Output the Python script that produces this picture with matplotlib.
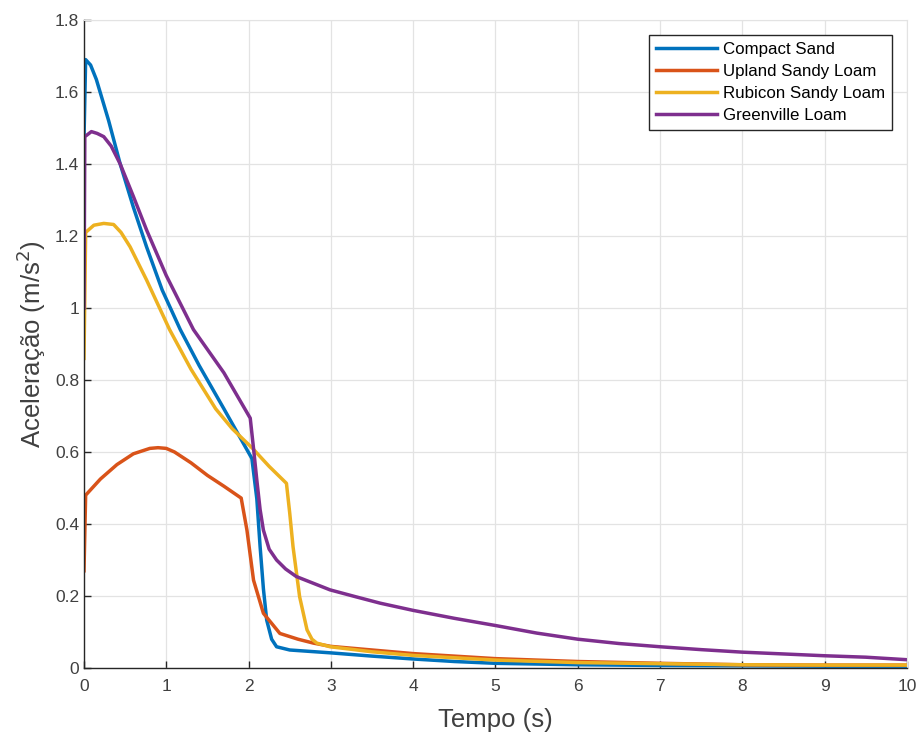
import matplotlib
matplotlib.use("Agg")
import matplotlib.pyplot as plt

plt.rcParams['font.family'] = ['Liberation Sans', 'DejaVu Sans']

# Acceleration vs. time for four soil types
t_compact = [0.0, 0.02, 0.08, 0.15, 0.3, 0.44, 0.6, 0.76, 0.95, 1.17, 1.4, 1.7, 2.04,
             2.1, 2.14, 2.18, 2.22, 2.28, 2.34, 2.5, 3.0, 3.5, 4.0, 4.5, 5.0, 6.0, 7.0, 8.0, 9.0, 10.0]
a_compact = [1.47, 1.69, 1.675, 1.635, 1.52, 1.40, 1.28, 1.17, 1.05, 0.94, 0.84, 0.72, 0.582,
             0.47, 0.337, 0.22, 0.133, 0.08, 0.059, 0.05, 0.042, 0.033, 0.025, 0.018, 0.013, 0.009, 0.007, 0.006, 0.005, 0.005]

t_upland = [0.0, 0.02, 0.2, 0.4, 0.6, 0.8, 0.9, 1.0, 1.1, 1.3, 1.5, 1.7, 1.91,
            1.98, 2.06, 2.18, 2.38, 2.6, 2.79, 3.0, 3.6, 4.0, 5.0, 6.0, 7.0, 8.0, 9.0, 10.0]
a_upland = [0.27, 0.48, 0.525, 0.565, 0.595, 0.61, 0.612, 0.61, 0.60, 0.57, 0.535, 0.505, 0.472,
            0.383, 0.244, 0.152, 0.096, 0.08, 0.069, 0.06, 0.048, 0.04, 0.026, 0.018, 0.013, 0.009, 0.008, 0.008]

t_rubicon = [0.0, 0.02, 0.12, 0.24, 0.36, 0.45, 0.56, 0.76, 1.04, 1.3, 1.6, 1.8, 2.04, 2.25, 2.46,
             2.5, 2.54, 2.62, 2.71, 2.77, 2.83, 2.99, 3.5, 4.0, 5.0, 6.0, 7.0, 8.0, 9.0, 10.0]
a_rubicon = [0.86, 1.21, 1.23, 1.235, 1.232, 1.21, 1.17, 1.078, 0.94, 0.83, 0.72, 0.665, 0.612, 0.56, 0.513,
             0.43, 0.337, 0.198, 0.106, 0.08, 0.069, 0.059, 0.045, 0.035, 0.022, 0.015, 0.012, 0.009, 0.008, 0.008]

t_green = [0.0, 0.01, 0.09, 0.16, 0.24, 0.33, 0.44, 0.6, 0.76, 1.0, 1.33, 1.7, 2.02,
           2.06, 2.10, 2.14, 2.18, 2.25, 2.34, 2.45, 2.58, 2.99, 3.3, 3.6, 4.0, 4.5, 5.0, 5.5, 6.0,
           6.5, 7.0, 7.5, 8.0, 8.5, 9.0, 9.5, 10.0]
a_green = [1.0, 1.476, 1.49, 1.485, 1.476, 1.45, 1.40, 1.31, 1.217, 1.09, 0.94, 0.82, 0.694,
           0.61, 0.522, 0.44, 0.383, 0.33, 0.30, 0.275, 0.254, 0.217, 0.198, 0.18, 0.16, 0.138, 0.118, 0.097, 0.08,
           0.068, 0.059, 0.051, 0.044, 0.039, 0.034, 0.03, 0.023]

labels = ["Compact Sand", "Upland Sandy Loam", "Rubicon Sandy Loam", "Greenville Loam"]
colors = ["#0072BD", "#D95319", "#EDB120", "#7E2F8E"]

x_ticks = list(range(0, 11))
y_ticks = [0, 0.2, 0.4, 0.6, 0.8, 1.0, 1.2, 1.4, 1.6, 1.8]
y_tick_labels = ["0", "0.2", "0.4", "0.6", "0.8", "1", "1.2", "1.4", "1.6", "1.8"]

fig = plt.figure(figsize=(9.22, 7.36), dpi=100)
ax = fig.add_axes([0.0911, 0.0924, 0.8926, 0.8804])

series = [(t_compact, a_compact), (t_upland, a_upland), (t_rubicon, a_rubicon), (t_green, a_green)]
for (t, a), lab, c in zip(series, labels, colors):
    ax.plot(t, a, color=c, lw=2.5, label=lab, solid_joinstyle='round')

ax.set_xlim(0, 10)
ax.set_ylim(0, 1.8)
ax.set_xticks(x_ticks)
ax.set_yticks(y_ticks)
ax.set_yticklabels(y_tick_labels)
ax.grid(True, color="#e3e3e3", lw=0.9)
ax.set_axisbelow(True)

for s in ("top", "right"):
    ax.spines[s].set_color("#e3e3e3")
for s in ("left", "bottom"):
    ax.spines[s].set_color("#262626")
    ax.spines[s].set_linewidth(1.0)

ax.tick_params(direction="in", length=5, width=1, colors="#262626",
               labelsize=12.5, labelcolor="#404040", top=False, right=False)
ax.tick_params(axis="x", pad=8)

ax.set_xlabel("Tempo (s)", fontsize=18.5, color="#404040", labelpad=10)
ax.set_ylabel("Aceleração (m/s$^2$)", fontsize=18.5, color="#404040", labelpad=5)

leg = ax.legend(loc="upper right", bbox_to_anchor=(0.9815, 0.977), fontsize=12.2,
                handlelength=3.6, handletextpad=0.35, borderpad=0.4, labelspacing=0.42,
                borderaxespad=0, fancybox=False, framealpha=1, edgecolor="#262626")
leg.get_frame().set_linewidth(1.0)

fig.savefig("out.png", dpi=100)
